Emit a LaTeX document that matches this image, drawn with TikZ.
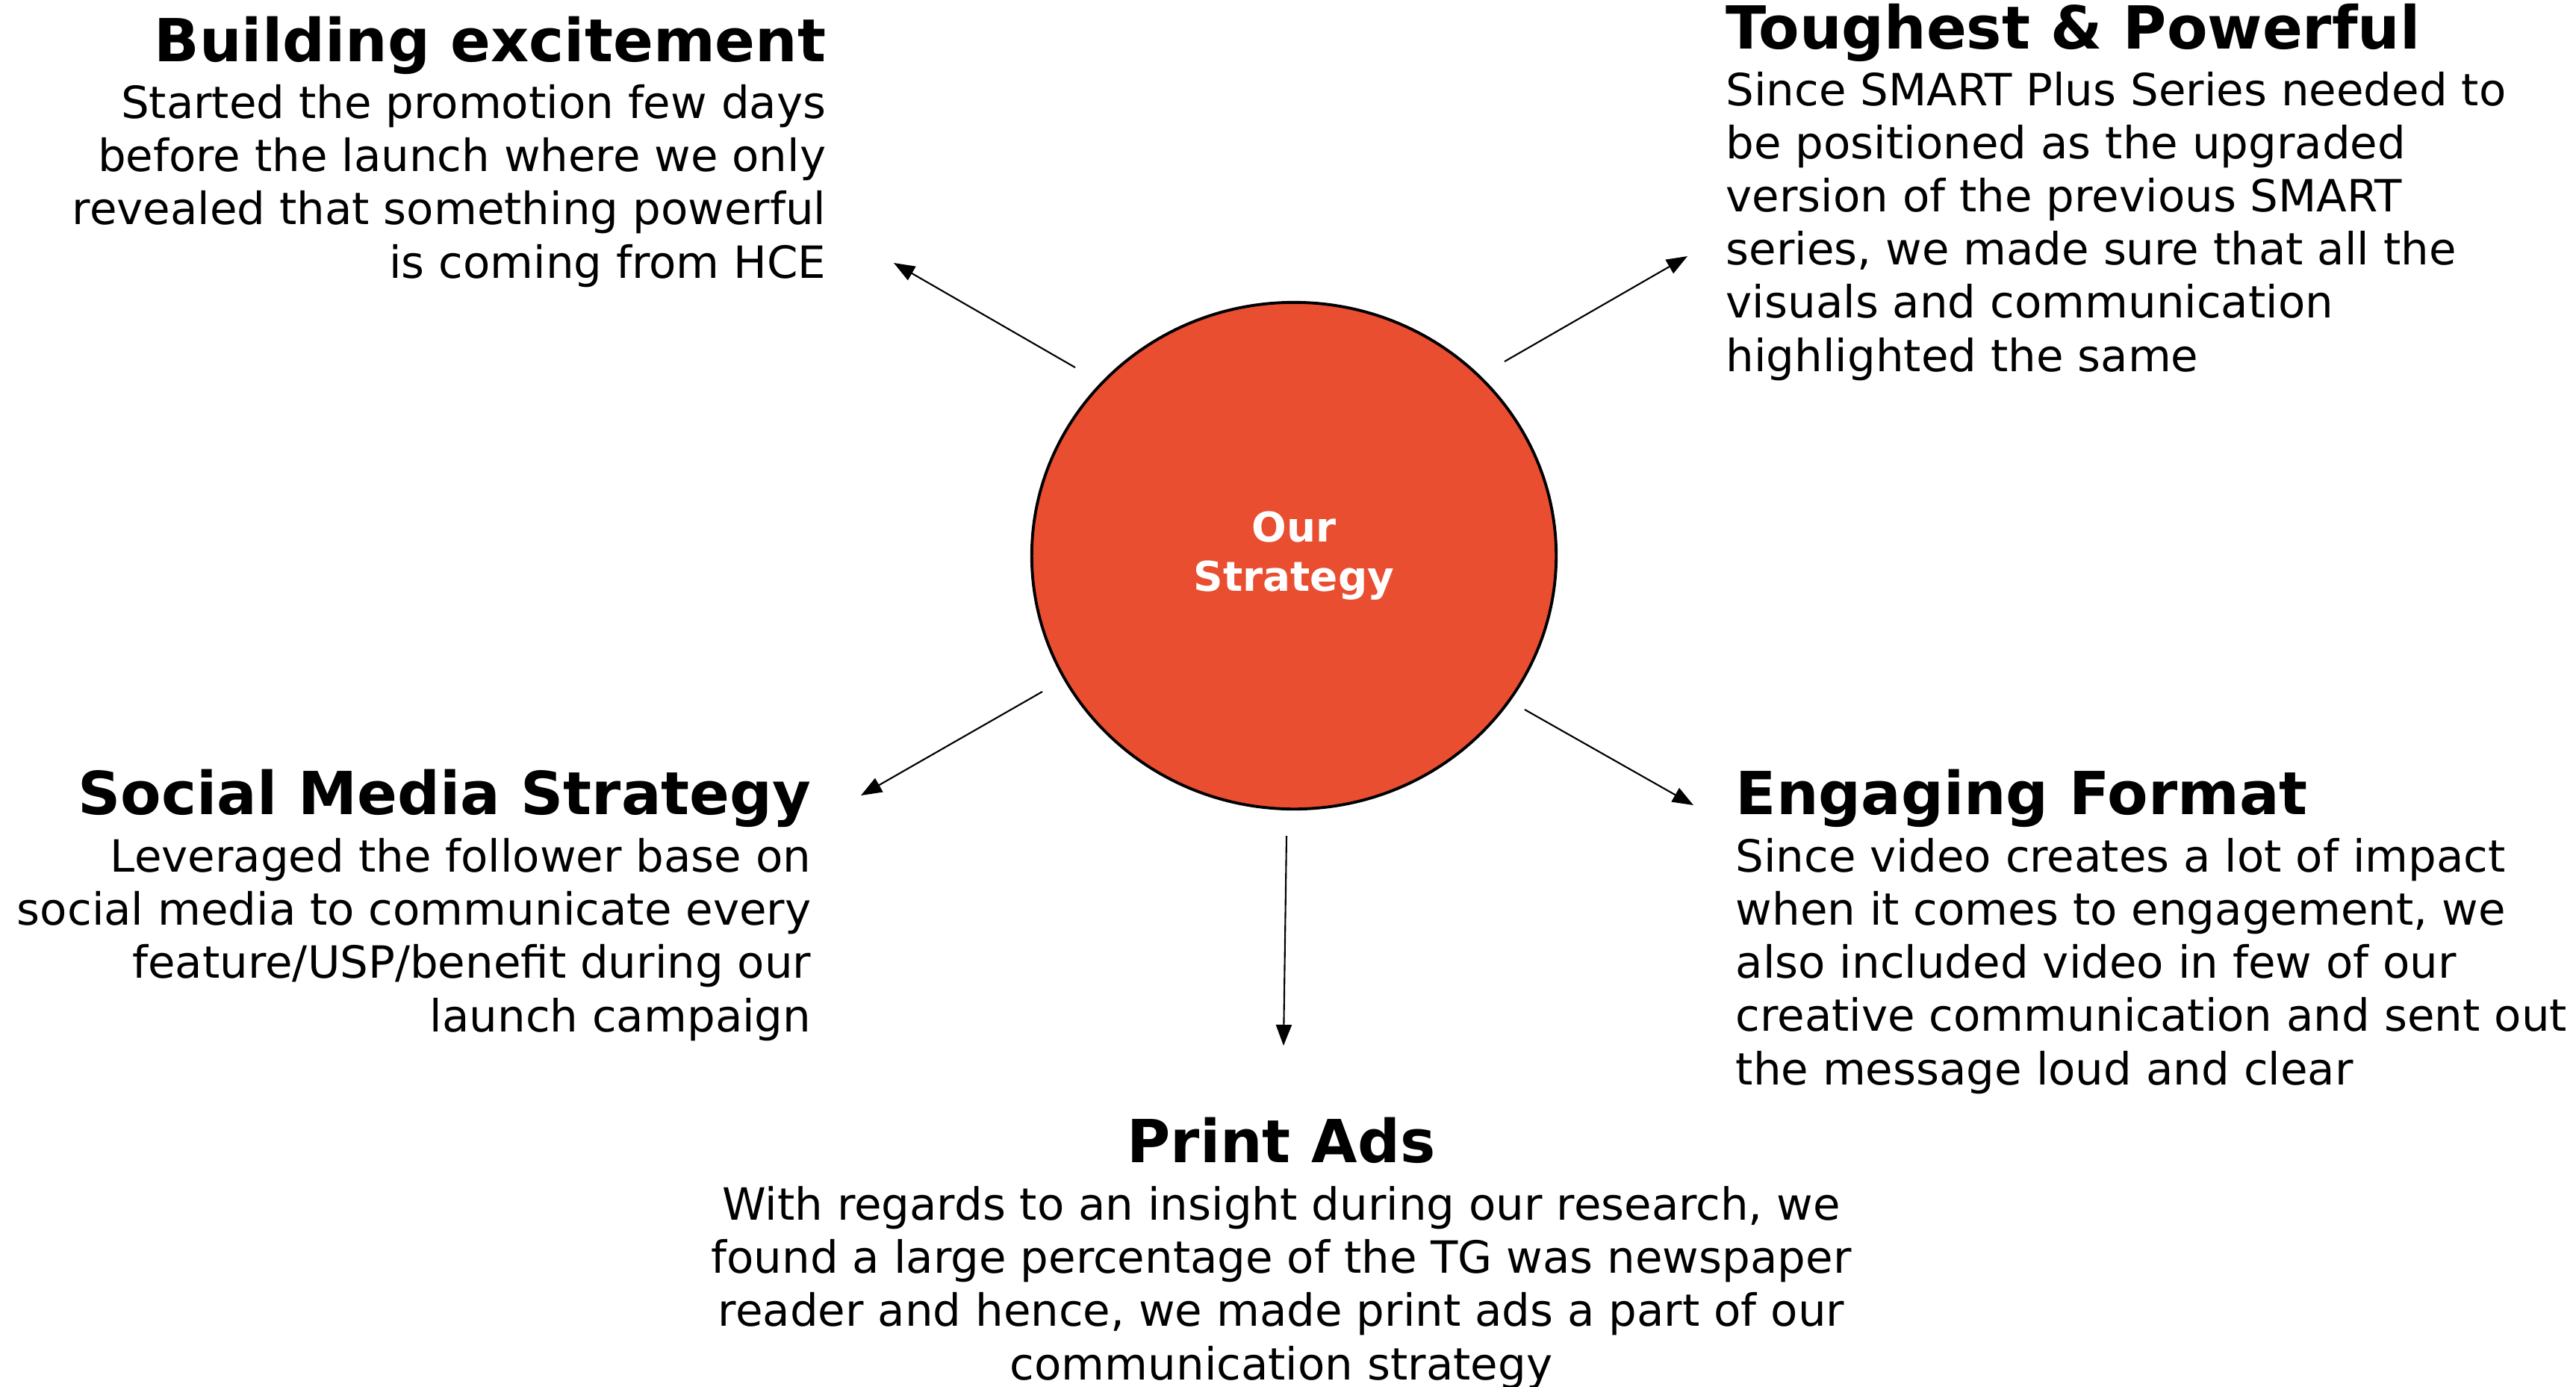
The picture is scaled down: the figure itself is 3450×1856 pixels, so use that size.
\documentclass[tikz,border=0pt]{standalone}
\usepackage{fontspec}
\setmainfont{DejaVu Sans}
\usepackage{tikz}
\usetikzlibrary{arrows.meta}
\usetikzlibrary{shapes.geometric}
\definecolor{stratred}{HTML}{E94E31}
\tikzset{every edge/.style={draw, line width=0.6pt}}
\tikzset{>={Triangle[length=2.8mm,width=2.1mm]}}
\tikzset{heading/.style={font=\fontsize{22.6}{27}\selectfont\bfseries, inner sep=0pt}}
\tikzset{blurb/.style={font=\fontsize{16.9}{20.2}\selectfont, inner sep=0pt}}

\begin{document}
\begin{tikzpicture}[x=0.01cm, y=-0.01cm]
    \useasboundingbox (0,0) rectangle (3450,1856);

    \node[ellipse, draw, line width=1.1pt, fill=stratred, text=white, inner sep=0pt,
          minimum width=7.02cm, minimum height=6.78cm, align=center,
          font=\fontsize{15.6}{18.7}\selectfont\bfseries] at (1733,744) (core) {Our\\Strategy};

    % ends of the five arrows
    \coordinate (be-from) at (1440,492);  \coordinate (be-to) at (1197,352);
    \coordinate (tp-from) at (2015,484);  \coordinate (tp-to) at (2260,343);
    \coordinate (sm-from) at (1396,926);  \coordinate (sm-to) at (1153,1065);
    \coordinate (ef-from) at (2042,950);  \coordinate (ef-to) at (2268,1078);
    \coordinate (pa-from) at (1723,1119); \coordinate (pa-to) at (1719,1400);

    \draw (be-from) edge[->] (be-to);
    \draw (tp-from) edge[->] (tp-to);
    \draw (sm-from) edge[->] (sm-to);
    \draw (ef-from) edge[->] (ef-to);
    \draw (pa-from) edge[->] (pa-to);

    % multi-line blurbs sit on the baseline of their last line
    \node[heading, anchor=base east] at (1107,82) (be-head) {Building excitement};
    \node[blurb, anchor=base east, align=right] at (1107,372) (be-text)
        {Started the promotion few days\\before the launch where we only\\revealed that something powerful\\is coming from HCE};

    \node[heading, anchor=base west] at (2311,65) (tp-head) {Toughest \& Powerful};
    \node[blurb, anchor=base west, align=left] at (2311,497) (tp-text)
        {Since SMART Plus Series needed to\\be positioned as the upgraded\\version of the previous SMART\\series, we made sure that all the\\visuals and communication\\highlighted the same};

    \node[heading, anchor=base east] at (1087,1090) (sm-head) {Social Media Strategy};
    \node[blurb, anchor=base east, align=right] at (1087,1381) (sm-text)
        {Leveraged the follower base on\\social media to communicate every\\feature/USP/benefit during our\\launch campaign};

    \node[heading, anchor=base west] at (2324,1090) (ef-head) {Engaging Format};
    \node[blurb, anchor=base west, align=left] at (2324,1452) (ef-text)
        {Since video creates a lot of impact\\when it comes to engagement, we\\also included video in few of our\\creative communication and sent out\\the message loud and clear};

    \node[heading, anchor=base] at (1716,1556) (pa-head) {Print Ads};
    \node[blurb, anchor=base, align=center] at (1716,1847) (pa-text)
        {With regards to an insight during our research, we\\found a large percentage of the TG was newspaper\\reader and hence, we made print ads a part of our\\communication strategy};
\end{tikzpicture}
\end{document}
